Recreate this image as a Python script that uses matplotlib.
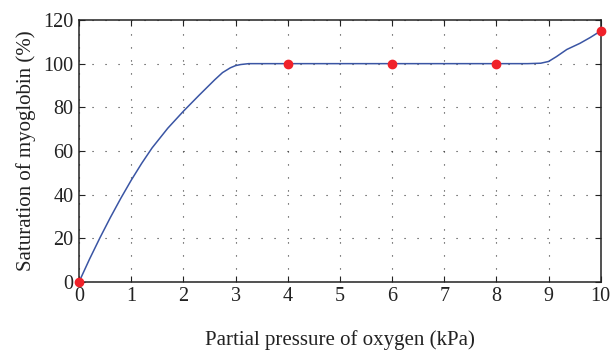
import numpy as np
import matplotlib
matplotlib.use("Agg")
import matplotlib.pyplot as plt

# curve (kPa, %)
curve_x = [0, 0.2, 0.4, 0.6, 0.8, 1.0, 1.2, 1.4, 1.7, 2.0, 2.3, 2.6, 2.75, 2.9, 3.0, 3.1, 3.25, 3.5,
           4, 5, 6, 7, 8, 8.6, 8.85, 9.0, 9.15, 9.35, 9.6, 9.8, 10]
curve_y = [0, 10.4, 20.2, 29.5, 38.3, 46.6, 54.3, 61.4, 70.4, 78.2, 85.5, 92.6, 95.9, 98.1, 99.1, 99.6, 100, 100,
           100, 100, 100, 100, 100, 100, 100.2, 101, 103.2, 106.5, 109.3, 112, 115]
# measured points
pts_x = [0, 4, 6, 8, 10]
pts_y = [0, 100, 100, 100, 115]

plt.rcParams['font.family'] = ['Liberation Serif', 'DejaVu Serif']

fig = plt.figure(figsize=(6.13, 3.51), dpi=100)
ax = fig.add_axes([0.129, 0.197, 0.851, 0.746])

ax.plot(curve_x, curve_y, color='#3a55a4', lw=1.1, zorder=3)
ax.plot(pts_x, pts_y, 'o', color='#f0222a', ms=6, clip_on=False, zorder=4)

ax.set_xlim(0, 10)
ax.set_ylim(0, 120)
ax.set_xticks(range(0, 11))
ax.set_yticks(range(0, 121, 20))
ax.grid(True, color='#333333', lw=0.8, linestyle=(0, (1, 10.7)))
ax.tick_params(direction='in', top=True, right=True, length=4, labelsize=14.5, colors='#222222', pad=4)
for s in ax.spines.values():
    s.set_linewidth(1.1)
    s.set_color('#222222')

ax.set_xlabel('Partial pressure of oxygen (kPa)', fontsize=15, labelpad=17, color='#222222')
ax.set_ylabel('Saturation of myoglobin (%)', fontsize=15, labelpad=5, color='#222222')

fig.savefig('out.png', dpi=100)
